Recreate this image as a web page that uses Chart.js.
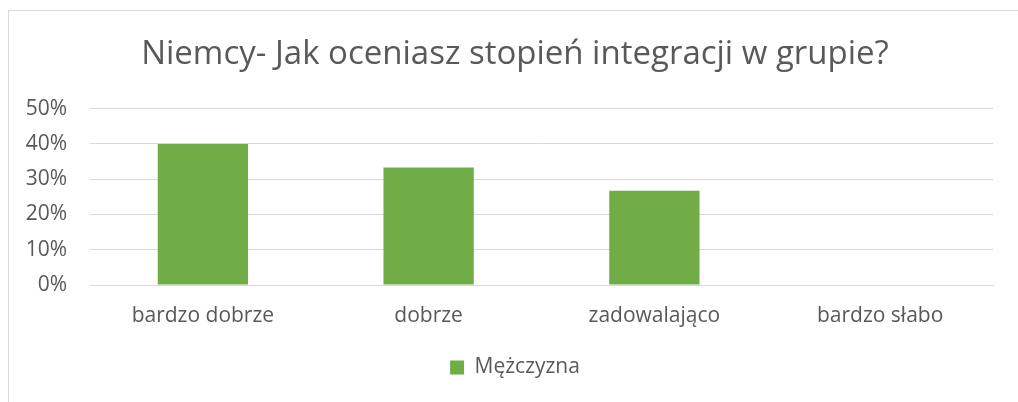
<!DOCTYPE html>
<html>
<head>
<meta charset="utf-8">
<script src="https://cdn.jsdelivr.net/npm/chart.js@4"></script>
<style>
  html, body { margin: 0; padding: 0; background: #fff; }
  #wrap { position: relative; width: 1018px; height: 402px; overflow: hidden; }
  #frame { position: absolute; left: 8px; top: 10px; width: 1030px; height: 420px;
           border: 1px solid #d9d9d9; box-sizing: border-box; pointer-events: none; }
  canvas { position: absolute; left: 0; top: 0; }
</style>
</head>
<body>
<div id="wrap">
  <canvas id="chart" width="1030" height="402"></canvas>
  <div id="frame"></div>
</div>
<script>
// dane
const kategorie = ['bardzo dobrze', 'dobrze', 'zadowalająco', 'bardzo słabo'];
const mezczyzna = [40, 33.3, 26.7, 0];
const tytul = 'Niemcy- Jak oceniasz stopień integracji w grupie?';
const seria = 'Mężczyzna';

const FONT = "'Open Sans', 'Liberation Sans', sans-serif";
const SZARY = '#595959';

new Chart(document.getElementById('chart'), {
    type: 'bar',
    data: {
        labels: kategorie,
        datasets: [{
            label: seria,
            data: mezczyzna,
            backgroundColor: '#70ad47',
            categoryPercentage: 1,
            barPercentage: 0.4
        }]
    },
    options: {
        responsive: false,
        animation: false,
        layout: { padding: { left: 0, right: 0, top: 0, bottom: 14 } },
        plugins: {
            title: {
                display: true,
                text: tytul,
                color: SZARY,
                font: { family: FONT, size: 33, weight: 'normal' },
                padding: { top: 35, bottom: 34 }
            },
            legend: {
                position: 'bottom',
                labels: {
                    color: SZARY,
                    font: { family: FONT, size: 21 },
                    boxWidth: 14,
                    boxHeight: 14,
                    padding: 10
                }
            },
            tooltip: { enabled: false }
        },
        scales: {
            x: {
                grid: { display: false, drawTicks: false },
                border: { display: true, color: '#d9d9d9' },
                ticks: { color: SZARY, font: { family: FONT, size: 21 }, padding: 18 },
                afterFit: function (s) { s.height = 62; }
            },
            y: {
                min: 0,
                max: 50,
                grid: { color: '#d9d9d9', drawTicks: false },
                border: { display: false },
                ticks: {
                    stepSize: 10,
                    color: SZARY,
                    font: { family: FONT, size: 21 },
                    padding: 23,
                    callback: function (v) { return v + '%'; }
                },
                afterFit: function (s) { s.width = 90; }
            },
            // pusty margines po prawej stronie obszaru wykresu
            prawy: {
                position: 'right',
                display: true,
                grid: { display: false, drawTicks: false },
                border: { display: false },
                ticks: { display: false },
                afterFit: function (s) { s.width = 37; }
            }
        }
    }
});
</script>
</body>
</html>
